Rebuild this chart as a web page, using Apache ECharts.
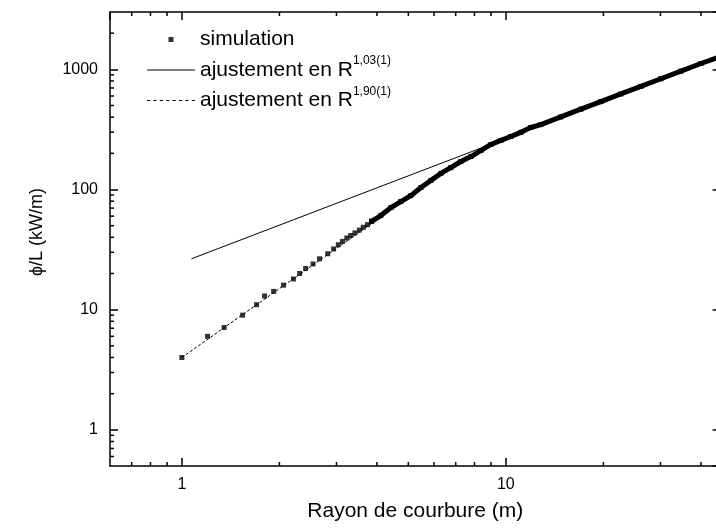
<!DOCTYPE html>
<html><head><meta charset="utf-8">
<script src="https://cdn.jsdelivr.net/npm/echarts@6/dist/echarts.min.js"></script>
<style>html,body{margin:0;padding:0;background:#fff}#c{width:716px;height:530px}</style>
</head><body><div id="c"></div>
<script>
// ---- data ----
const simSparse = [[1.0,4.0],[1.2,6.0],[1.35,7.1],[1.54,9.0],[1.70,11],[1.80,13],[1.92,14.2],[2.06,16],[2.21,18],[2.31,20],[2.41,22],[2.54,24],[2.66,26.5],[2.82,29.2],[2.94,32],[3.04,34.7],[3.13,37],[3.23,39.5],[3.32,41.4],[3.42,43.5],[3.53,45.9],[3.63,48.5],[3.74,51],[3.85,54.4]];
const simDense = [[3.85,54.4],[4.11,60.7],[4.42,70.8],[4.74,79.4],[5.09,89],[5.47,104],[5.87,119],[6.30,136],[6.76,152],[7.26,171],[7.80,188],[8.37,211],[8.99,237],[9.65,256],[10.36,276],[11.12,299],[11.94,328],[12.82,347],[14.78,402],[17.04,466],[19.64,539],[22.64,624],[26.1,721],[30.1,835],[34.7,966],[40.0,1118],[46,1280]];
const fit103 = [[1.07,26.5],[46,1280]];
const fit190 = [[1.0,4.0],[4.6,73]];
const xRange = [0.6, 46];
const yRange = [0.5, 3000];
const xMinorTicks = [0.7,0.8,0.9,2,3,4,5,6,7,8,9,20,30,40];
const yMinorTicks = [0.6,0.7,0.8,0.9,2,3,4,5,6,7,8,9,20,30,40,50,60,70,80,90,200,300,400,500,600,700,800,900,2000];
const legendLabels = {
  'simulation': '{a|simulation}',
  'fit103': '{a|ajustement en R}{s|1,03(1)}',
  'fit190': '{a|ajustement en R}{s|1,90(1)}'
};
const xTitle = 'Rayon de courbure (m)';
const yTitle = 'ϕ/L (kW/m)';

// ---- chart ----
const FONT = "'Liberation Sans', Arial, sans-serif";
const chart = echarts.init(document.getElementById('c'));
let dashIcon = 'path://';
for (let i = 0; i < 8; i++) dashIcon += 'M' + (i * 6) + ',0h3v1h-3z';
const solidIcon = 'path://M0,0h48v1.2h-48z';
const squareIcon = 'path://M0,2.5h0.01v0.01h-0.01zM47.99,2.5h0.01v0.01h-0.01zM21.5,0h5v5h-5z';

function minorTicks(dim) {
  return function (params, api) {
    const len = 4, st = { stroke: '#000', lineWidth: 1.5 };
    if (dim === 'x') {
      const v = api.value(0);
      const b = api.coord([v, yRange[0]]), t = api.coord([v, yRange[1]]);
      return { type: 'group', children: [
        { type: 'line', shape: { x1: b[0], y1: b[1], x2: b[0], y2: b[1] - len }, style: st },
        { type: 'line', shape: { x1: t[0], y1: t[1], x2: t[0], y2: t[1] + len }, style: st }
      ] };
    }
    const v = api.value(1);
    const l = api.coord([xRange[0], v]), r = api.coord([xRange[1], v]);
    return { type: 'group', children: [
      { type: 'line', shape: { x1: l[0], y1: l[1], x2: l[0] + len, y2: l[1] }, style: st },
      { type: 'line', shape: { x1: r[0], y1: r[1], x2: r[0] - len, y2: r[1] }, style: st }
    ] };
  };
}

const fmt = v => String(+(+v).toPrecision(6));
const axisCommon = {
  type: 'log', logBase: 10,
  axisLine: { show: true, onZero: false, lineStyle: { color: '#000', width: 1.5 } },
  axisTick: { show: true, inside: true, length: 8, lineStyle: { color: '#000', width: 1.5 } },
  splitLine: { show: false },
  minorTick: { show: false }
};

chart.setOption({
  animation: false,
  textStyle: { fontFamily: FONT, color: '#000' },
  grid: { left: 110, top: 12, right: -4.6, bottom: 64, containLabel: false, outerBoundsMode: 'none' },
  xAxis: [
    Object.assign({}, axisCommon, {
      position: 'bottom', min: xRange[0], max: xRange[1],
      axisLabel: { show: true, fontSize: 16, color: '#000', margin: 11, formatter: fmt, showMinLabel: false, showMaxLabel: false },
      name: xTitle, nameLocation: 'middle', nameGap: 35,
      nameTextStyle: { fontSize: 21, color: '#000', fontFamily: FONT }
    }),
    Object.assign({}, axisCommon, {
      position: 'top', min: xRange[0], max: xRange[1], axisLabel: { show: false }
    })
  ],
  yAxis: [
    Object.assign({}, axisCommon, {
      position: 'left', min: yRange[0], max: yRange[1],
      axisLabel: { show: true, fontSize: 16, color: '#000', margin: 12, formatter: fmt, showMinLabel: false, showMaxLabel: false },
      name: yTitle, nameLocation: 'middle', nameGap: 64, nameRotate: 90,
      nameTextStyle: { fontSize: 18, color: '#000', fontFamily: FONT, padding: [0, 0, 0, 14] }
    }),
    Object.assign({}, axisCommon, {
      position: 'right', min: yRange[0], max: yRange[1], axisLabel: { show: false }
    })
  ],
  legend: {
    orient: 'vertical', left: 147, top: 29, padding: 0, itemGap: 5,
    itemWidth: 48, itemHeight: 5, selectedMode: false, symbolKeepAspect: true,
    data: [
      { name: 'simulation', icon: squareIcon },
      { name: 'fit103', icon: solidIcon },
      { name: 'fit190', icon: dashIcon }
    ],
    formatter: name => legendLabels[name],
    textStyle: {
      color: '#000',
      rich: {
        a: { fontSize: 21, lineHeight: 30, fontFamily: FONT, color: '#000', verticalAlign: 'middle' },
        s: { fontSize: 12, lineHeight: 14, fontFamily: FONT, color: '#000', verticalAlign: 'top' }
      }
    }
  },
  series: [
    { name: 'fit103', type: 'line', data: fit103, symbol: 'none', z: 3,
      lineStyle: { color: '#000', width: 1 }, itemStyle: { color: '#000' } },
    { name: 'fit190', type: 'line', data: fit190, symbol: 'none', z: 3,
      lineStyle: { color: '#000', width: 1, type: [3, 2] }, itemStyle: { color: '#000' } },
    { name: 'simulation', type: 'scatter', data: simSparse, symbol: 'rect', symbolSize: 5, z: 4,
      itemStyle: { color: '#000' } },
    { name: 'simulation (dense part)', type: 'line', data: simDense, symbol: 'rect', symbolSize: 5, showSymbol: true, z: 4,
      lineStyle: { color: '#000', width: 5 }, itemStyle: { color: '#000' } },
    { type: 'custom', name: 'xminor', data: xMinorTicks.map(v => [v, yRange[0]]), renderItem: minorTicks('x'), clip: false, silent: true, z: 5 },
    { type: 'custom', name: 'yminor', data: yMinorTicks.map(v => [xRange[0], v]), renderItem: minorTicks('y'), clip: false, silent: true, z: 5 }
  ]
});
</script>
</body></html>
